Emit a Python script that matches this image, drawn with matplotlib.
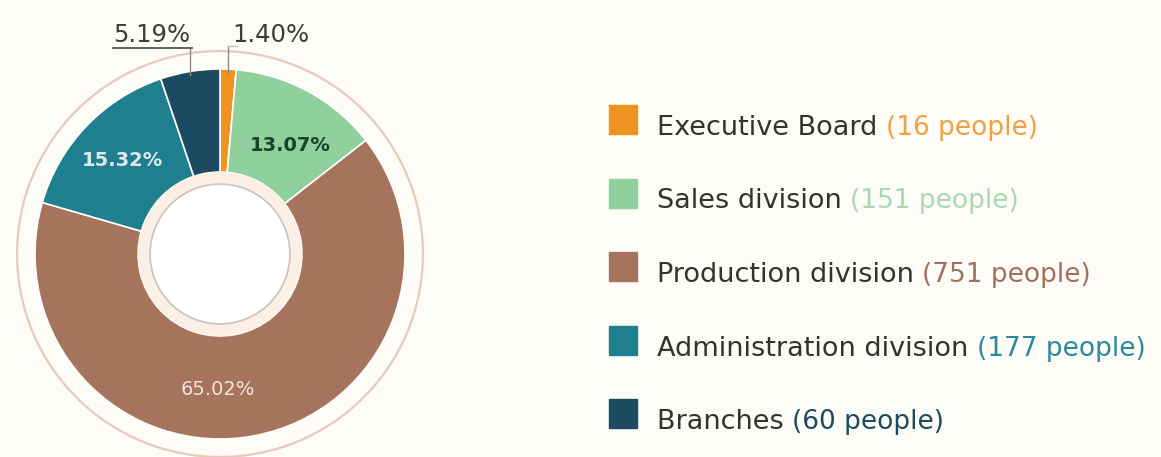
import numpy as np
import matplotlib.pyplot as plt
from matplotlib.patches import Circle, Rectangle

plt.rcParams['font.family'] = ['DejaVu Sans']

# headcount by unit
units = ["Executive Board", "Sales division", "Production division",
         "Administration division", "Branches"]
people = [16, 151, 751, 177, 60]
shares = [1.40, 13.07, 65.02, 15.32, 5.19]
colors = ["#f0921e", "#8fd09c", "#a6735c", "#1f7f8f", "#1c4a60"]
count_colors = ["#f2a040", "#a9d9b0", "#a07060", "#2a8a9a", "#1c4a60"]

bg = "#fdfcf6"
fig = plt.figure(figsize=(11.61, 4.57), dpi=100, facecolor=bg)

# donut on the left, 1 unit = 185 px
ax = fig.add_axes([0, 0, 457 / 1161, 1])
ax.set_facecolor(bg)
R = 185.0
cx, cy = 220.0, 457 - 254.0

wedges, _ = ax.pie(shares, colors=colors, startangle=90, counterclock=False,
                   radius=1.0, wedgeprops=dict(width=0.557, edgecolor="white", linewidth=1.2))
ax.set_xlim(-cx / R, (457 - cx) / R)
ax.set_ylim(-cy / R, (457 - cy) / R)
ax.set_aspect("equal")
ax.axis("off")

# rings around and inside the donut
ax.add_patch(Circle((0, 0), 1.097, fill=False, ec="#e7c9bd", lw=1.6))
ax.add_patch(Circle((0, 0), 0.443, fc="#fcf0e4", ec="none"))
ax.add_patch(Circle((0, 0), 0.378, fc="white", ec="#c9c2c2", lw=1.2))

# percentage labels inside the larger slices
inner = {1: ("#17452a", "bold", 0.70, -4.5),
         2: ("#f3e4d8", "normal", 0.735, -11.8),
         3: ("#dde8ef", "bold", 0.73, 0.0)}
for i, (col, fw, r, shift) in inner.items():
    w = wedges[i]
    ang = np.deg2rad((w.theta1 + w.theta2) / 2 + shift)
    ax.text(r * np.cos(ang), r * np.sin(ang), f"{shares[i]:.2f}%", color=col,
            fontsize=14, fontweight=fw, ha="center", va="center")

# small slices get labels above the ring with leader lines
ylev = 1.114
ytxt = 1.146
# Branches: underlined label to the left of the leader
w = wedges[4]
ang = np.deg2rad((w.theta1 + w.theta2) / 2)
x0, y0 = np.cos(ang), np.sin(ang)
ax.plot([x0, x0], [y0 - 0.02, ylev], color="#8a8a80", lw=1.0)
ax.plot([-0.58, x0 + 0.01], [ylev, ylev], color="#555555", lw=1.3)
ax.text((-0.58 + x0) / 2, ytxt, f"{shares[4]:.2f}%", color="#3c3c3c",
        fontsize=17.5, ha="center", va="baseline")
# Executive Board: label starts just right of its leader
w = wedges[0]
ang = np.deg2rad((w.theta1 + w.theta2) / 2)
x0, y0 = np.cos(ang), np.sin(ang)
ax.plot([x0, x0], [y0 - 0.02, ylev + 0.01], color="#8a8a80", lw=1.0)
ax.plot([x0, x0 + 0.05], [ylev + 0.01, ylev + 0.01], color="#c8c8b8", lw=1.0)
ax.text(x0 + 0.021, ytxt, f"{shares[0]:.2f}%", color="#3c3c3c",
        fontsize=17.5, ha="left", va="baseline")

# legend on the right, drawn in pixel coordinates
lax = fig.add_axes([0, 0, 1, 1], facecolor="none")
lax.set_xlim(0, 1161)
lax.set_ylim(457, 0)
lax.axis("off")
row0, step = 128, 73.5
for k, (name, n) in enumerate(zip(units, people)):
    y = row0 + k * step
    lax.add_patch(Rectangle((609, y - 23), 28, 29, color=colors[k]))
    t = lax.text(657, y, name + " ", color="#333333", fontsize=19.5,
                 ha="left", va="center")
    lax.annotate(f"({n} people)", xycoords=t, xy=(1, 0.5), va="center",
                 color=count_colors[k], fontsize=19)

fig.savefig("out.png", dpi=100, facecolor=bg)
